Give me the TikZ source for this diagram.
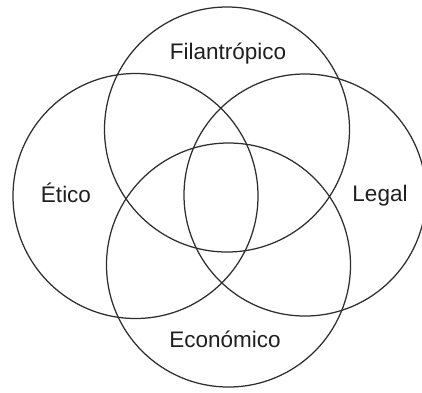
\documentclass[tikz,border=0pt]{standalone}
\usepackage{fontspec}
\setmainfont{Liberation Sans}
\begin{document}
\begin{tikzpicture}[x=1pt,y=-1pt,
  ring/.style={draw=black!82,line width=1.25pt},
  lbl/.style={anchor=base,inner sep=0pt,text=black!88,font=\fontsize{22.5}{27}\selectfont}]
\useasboundingbox (0,0) rectangle (422,392);
\fill[white] (0,0) rectangle (422,392);
\begin{scope}
\clip (0,0) rectangle (422,392);
\draw[ring] (227,129.5) circle[radius=122.5] coordinate (cfil);
\draw[ring] (135.5,196) circle[radius=122.5] coordinate (ceti);
\draw[ring] (305,195) circle[radius=121] coordinate (cleg);
\draw[ring] (228.5,265) circle[radius=122] coordinate (ceco);
\end{scope}
\node[lbl] (fil) at (228,59) {Filantrópico};
\node[lbl] (eti) at (66,202) {Ético};
\node[lbl] (leg) at (380,201) {Legal};
\node[lbl] (eco) at (225,347) {Económico};
\end{tikzpicture}
\end{document}
